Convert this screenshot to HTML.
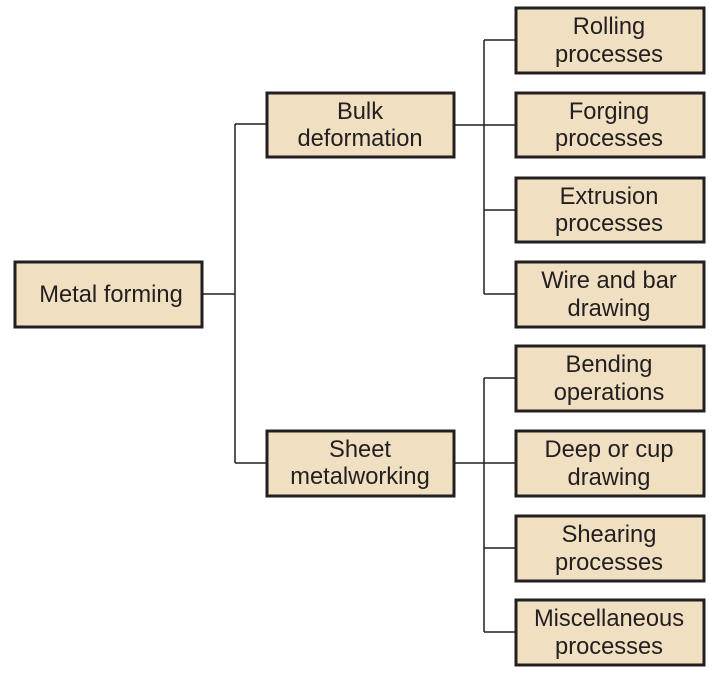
<!DOCTYPE html>
<html><head><style>body{margin:0;background:#fff}svg{display:block}</style></head>
<body>
<svg width="720" height="678" xmlns="http://www.w3.org/2000/svg" font-family="Liberation Sans, sans-serif" font-size="23.7" fill="#231f20">
<g stroke="#231f20" stroke-width="1.5" fill="none">
<path d="M203 294H235M235 124V463M235 124H266M235 463H266"/>
<path d="M455 125H515M484 40V294M484 40H515M484 210H515M484 294H515"/>
<path d="M455 463H515M484 378V632M484 378H515M484 548H515M484 632H515"/>
</g>
<g fill="#f0dfc0" stroke="#231f20" stroke-width="3">
<rect x="15" y="262" width="187" height="65"/>
<rect x="267" y="93" width="187" height="64"/>
<rect x="267" y="431" width="187" height="65"/>
<rect x="516" y="8" width="188" height="65"/>
<rect x="516" y="93" width="188" height="64"/>
<rect x="516" y="178" width="188" height="64"/>
<rect x="516" y="262" width="188" height="65"/>
<rect x="516" y="346" width="188" height="65"/>
<rect x="516" y="431" width="188" height="65"/>
<rect x="516" y="516" width="188" height="65"/>
<rect x="516" y="600" width="188" height="65"/>
</g>
<g text-anchor="middle">
<text x="111" y="302">Metal forming</text>
<text x="360" y="119">Bulk</text><text x="360" y="146">deformation</text>
<text x="360" y="457">Sheet</text><text x="360" y="484">metalworking</text>
<text x="609" y="34">Rolling</text><text x="609" y="62">processes</text>
<text x="609" y="119">Forging</text><text x="609" y="146">processes</text>
<text x="609" y="204">Extrusion</text><text x="609" y="231">processes</text>
<text x="609" y="288">Wire and bar</text><text x="609" y="316">drawing</text>
<text x="609" y="372">Bending</text><text x="609" y="400">operations</text>
<text x="609" y="457">Deep or cup</text><text x="609" y="485">drawing</text>
<text x="609" y="542">Shearing</text><text x="609" y="570">processes</text>
<text x="609" y="626">Miscellaneous</text><text x="609" y="654">processes</text>
</g>
</svg>
</body></html>
